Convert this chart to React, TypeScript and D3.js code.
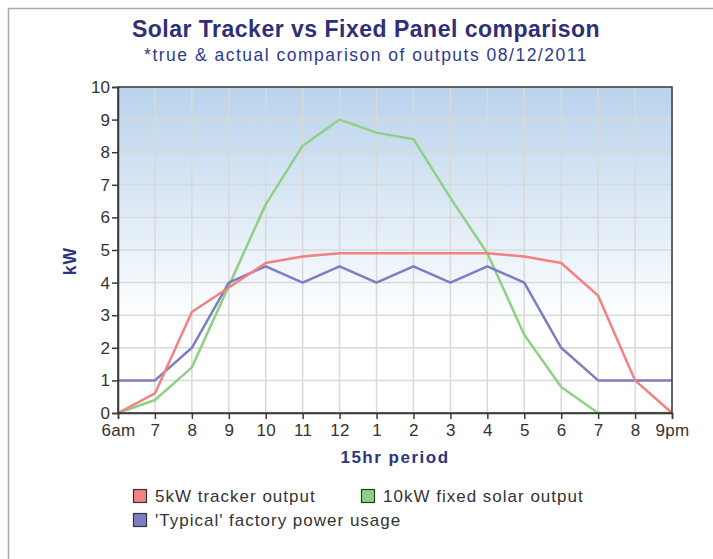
import React, { useEffect, useRef } from "react"
import * as d3 from "d3"

const WIDTH = 713
const HEIGHT = 559

const hourLabels = ["6am", "7", "8", "9", "10", "11", "12", "1", "2", "3", "4", "5", "6", "7", "8", "9pm"]
const yTicks = [0, 1, 2, 3, 4, 5, 6, 7, 8, 9, 10]

const trackerOutput = [0, 0.6, 3.1, 3.85, 4.6, 4.8, 4.9, 4.9, 4.9, 4.9, 4.9, 4.8, 4.6, 3.6, 1.0, 0]
const fixedOutput = [0, 0.4, 1.4, 3.9, 6.4, 8.2, 9.0, 8.6, 8.4, 6.6, 4.9, 2.4, 0.8, 0, 0, 0]
const factoryUsage = [1, 1, 2, 4, 4.5, 4, 4.5, 4, 4.5, 4, 4.5, 4, 2, 1, 1, 1]

const seriesNames = ["5kW tracker output", "10kW fixed solar output", "'Typical' factory power usage"]
const seriesColors = ["#f28282", "#8fd184", "#7d7dc4"]

const FONT = "'Liberation Sans', Arial, sans-serif"
const NAVY = "#2d3480"

const App = () => {
	const svgRef = useRef<SVGSVGElement>(null)

	useEffect(() => {
		if (!svgRef.current) return
		const svg = d3.select(svgRef.current)
		svg.selectAll("*").remove()

		const margin = { top: 87, right: WIDTH - 672, bottom: HEIGHT - 413, left: 118 }
		const width = WIDTH - margin.left - margin.right
		const height = HEIGHT - margin.top - margin.bottom

		// outer frame, only top and left edges visible
		svg.append("rect")
			.attr("x", 8.5)
			.attr("y", 8.5)
			.attr("width", 900)
			.attr("height", 900)
			.attr("fill", "white")
			.attr("stroke", "#a9a9a9")
			.attr("stroke-width", 1.5)

		const grad = svg.append("defs").append("linearGradient")
			.attr("id", "plot-bg")
			.attr("x1", 0).attr("y1", 0).attr("x2", 0).attr("y2", 1)
		grad.append("stop").attr("offset", "0%").attr("stop-color", "#b9d3ec")
		grad.append("stop").attr("offset", "72%").attr("stop-color", "#ffffff")
		grad.append("stop").attr("offset", "100%").attr("stop-color", "#ffffff")

		svg.append("text")
			.attr("x", 366)
			.attr("y", 37)
			.attr("text-anchor", "middle")
			.style("font-family", FONT)
			.style("font-size", "23px")
			.style("font-weight", "bold")
			.style("letter-spacing", "0.5px")
			.style("fill", "#2e2f78")
			.text("Solar Tracker vs Fixed Panel comparison")

		svg.append("text")
			.attr("x", 366)
			.attr("y", 61)
			.attr("text-anchor", "middle")
			.style("font-family", FONT)
			.style("font-size", "17.5px")
			.style("letter-spacing", "1.5px")
			.style("fill", "#2d3a8e")
			.text("*true & actual comparison of outputs 08/12/2011")

		const g = svg.append("g").attr("transform", `translate(${margin.left},${margin.top})`)

		const xScale = d3.scaleLinear().domain([0, hourLabels.length - 1]).range([0, width])
		const yScale = d3.scaleLinear().domain([0, 10]).range([height, 0])

		g.append("rect")
			.attr("width", width)
			.attr("height", height)
			.attr("fill", "url(#plot-bg)")

		// grid
		g.append("g")
			.selectAll("line")
			.data(hourLabels.map((_, i) => i))
			.join("line")
			.attr("x1", (d) => xScale(d))
			.attr("x2", (d) => xScale(d))
			.attr("y1", 0)
			.attr("y2", height)
			.attr("stroke", "#d9d9d9")
			.attr("stroke-width", 1.5)
		g.append("g")
			.selectAll("line")
			.data(yTicks)
			.join("line")
			.attr("x1", 0)
			.attr("x2", width)
			.attr("y1", (d) => yScale(d))
			.attr("y2", (d) => yScale(d))
			.attr("stroke", "#d9d9d9")
			.attr("stroke-width", 1.5)

		const line = d3.line<number>()
			.x((_, i) => xScale(i))
			.y((d) => yScale(d))

		const allSeries = [trackerOutput, fixedOutput, factoryUsage]
		// draw order: green, blue, red on top
		;[1, 2, 0].forEach((k) => {
			g.append("path")
				.datum(allSeries[k])
				.attr("fill", "none")
				.attr("stroke", seriesColors[k])
				.attr("stroke-width", 2.5)
				.attr("stroke-linejoin", "round")
				.attr("d", line)
		})

		// frame
		g.append("rect")
			.attr("width", width)
			.attr("height", height)
			.attr("fill", "none")
			.attr("stroke", "#3a3a3a")
			.attr("stroke-width", 1.5)

		const xAxis = d3.axisBottom(xScale)
			.tickValues(hourLabels.map((_, i) => i))
			.tickFormat((d) => hourLabels[d as number])
			.tickSize(6)
			.tickPadding(5)
		const yAxis = d3.axisLeft(yScale)
			.tickValues(yTicks)
			.tickSize(6)
			.tickPadding(2)

		const xg = g.append("g").attr("transform", `translate(0,${height})`).call(xAxis)
		const yg = g.append("g").call(yAxis)
		;[xg, yg].forEach((ax) => {
			ax.select(".domain").attr("stroke", "#3a3a3a").attr("stroke-width", 1.5)
			ax.selectAll(".tick line").attr("stroke", "#3a3a3a").attr("stroke-width", 1.5)
			ax.selectAll("text")
				.style("font-family", FONT)
				.style("font-size", "17px")
				.style("fill", "#333")
		})
		xg.selectAll("text").style("letter-spacing", "0.3px")

		svg.append("text")
			.attr("transform", `translate(76,261) rotate(-90)`)
			.attr("text-anchor", "middle")
			.style("font-family", FONT)
			.style("font-size", "17.5px")
			.style("font-weight", "bold")
			.style("letter-spacing", "1px")
			.style("fill", NAVY)
			.text("kW")

		svg.append("text")
			.attr("x", margin.left + width / 2)
			.attr("y", 463)
			.attr("text-anchor", "middle")
			.style("font-family", FONT)
			.style("font-size", "17px")
			.style("font-weight", "bold")
			.style("letter-spacing", "1.5px")
			.style("fill", NAVY)
			.text("15hr period")

		// legend
		const legendPos = [
			{ x: 133, y: 489 },
			{ x: 361, y: 489 },
			{ x: 133, y: 513 },
		]
		seriesNames.forEach((name, k) => {
			const p = legendPos[k]
			svg.append("rect")
				.attr("x", p.x + 0.5)
				.attr("y", p.y + 0.5)
				.attr("width", 13)
				.attr("height", 13)
				.attr("fill", seriesColors[k])
				.attr("stroke", "#333")
				.attr("stroke-width", 1.2)
			svg.append("text")
				.attr("x", p.x + 22)
				.attr("y", p.y + 13)
				.style("font-family", FONT)
				.style("font-size", "17px")
				.style("letter-spacing", "1px")
				.style("fill", "#333")
				.text(name)
		})
	}, [])

	return (
		<svg
			ref={svgRef}
			width={WIDTH}
			height={HEIGHT}
			style={{ position: "absolute", left: 0, top: 0, display: "block" }}
		></svg>
	)
}

export default App
